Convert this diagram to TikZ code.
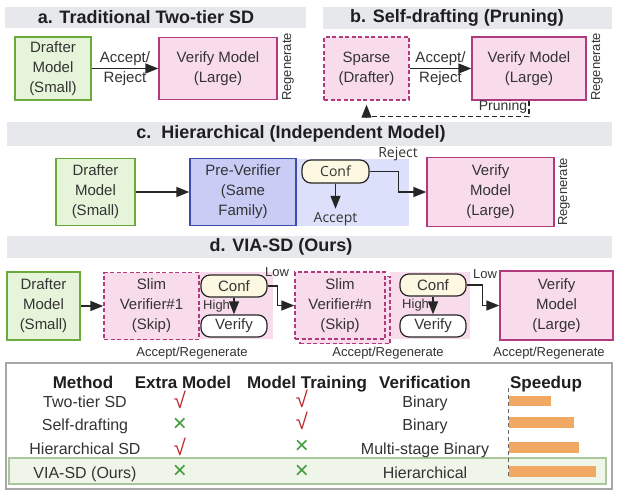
\documentclass[tikz,border=0pt]{standalone}
\usepackage{fontspec}
\setmainfont{Liberation Sans}
\newfontfamily\osans{Open Sans}
\usetikzlibrary{arrows.meta}
\definecolor{barg}{HTML}{E6E8EB}
\definecolor{gfill}{HTML}{E6F5DA}
\definecolor{gline}{HTML}{6AAB3C}
\definecolor{pfill}{HTML}{F9DCEC}
\definecolor{pline}{HTML}{B03A7C}
\definecolor{bfill}{HTML}{C9CDF6}
\definecolor{bline}{HTML}{3A4CB0}
\definecolor{lav}{HTML}{DDE0FA}
\definecolor{cfill}{HTML}{FDF8E1}
\definecolor{txt}{HTML}{333333}
\definecolor{orng}{HTML}{F0A862}
\definecolor{tabline}{HTML}{A6A6A6}
\definecolor{hlfill}{HTML}{EFF6E9}
\definecolor{hlline}{HTML}{A9C79A}
\definecolor{chk}{HTML}{C0282F}
\definecolor{crs}{HTML}{3F9A3A}
\begin{document}
\begin{tikzpicture}[x=1pt,y=-1pt,
  body/.style={font=\fontsize{15}{20}\selectfont, text=txt, align=center},
  mbox/.style={body, draw, line width=1.4pt, inner sep=0pt},
  grbox/.style={mbox, draw=gline, fill=gfill},
  pkbox/.style={mbox, draw=pline, fill=pfill},
  pkdash/.style={pkbox, dash pattern=on 4pt off 2.5pt},
  blbox/.style={mbox, draw=bline, fill=bfill},
  pill/.style={body, draw=black!85, fill=cfill, line width=1.2pt, rounded corners=9pt, inner sep=0pt, minimum width=66pt, minimum height=22pt},
  wpill/.style={pill, fill=white},
  title/.style={font=\fontsize{18}{20}\selectfont\bfseries, text=black!88},
  small/.style={font=\fontsize{13}{15}\selectfont, text=txt},
  osml/.style={font=\osans\fontsize{14}{16}\selectfont, text=txt},
  regen/.style={small, rotate=90},
  arr/.style={-{Triangle[length=13pt,width=10pt]}, line width=1.4pt, draw=black!85},
  hdr/.style={font=\fontsize{17}{20}\selectfont\bfseries, text=black!88, anchor=base},
  rowt/.style={font=\fontsize{16}{18}\selectfont, text=txt, anchor=base},
  chkm/.style={font=\fontsize{22}{22}\selectfont, text=chk},
  crsm/.style={font=\fontsize{24}{24}\selectfont, text=crs},
]
\useasboundingbox[fill=white] (0,0) rectangle (620,500);

% ---- panel a
\fill[barg] (5,7) rectangle (306,28);
\node[title] (ta) at (146,17.5) {a. Traditional Two-tier SD};
\node[grbox, minimum width=76pt, minimum height=63pt] (da) at (53,68.5) {Drafter\\Model\\(Small)};
\node[pkbox, minimum width=118pt, minimum height=62pt] (va) at (218,68.5) {Verify Model\\(Large)};
\draw[arr] (da) -- (va) node[midway, above=-1pt, body] (aa) {Accept/} node[midway, below=-1pt, body] (ra1) {Reject};
\node[regen] (rga) at (288,67) {Regenerate};

% ---- panel b
\fill[barg] (323,7) rectangle (612,29);
\node[title] (tb) at (457,18) {b. Self-drafting (Pruning)};
\node[pkdash, minimum width=85pt, minimum height=63pt] (sp) at (366.5,68.5) {Sparse\\(Drafter)};
\node[pkbox, minimum width=114pt, minimum height=63pt] (vb) at (529,68.5) {Verify Model\\(Large)};
\draw[arr] (sp) -- (vb) node[midway, above=-1pt, body] (ab) {Accept/} node[midway, below=-1pt, body] (rb1) {Reject};
\node[regen] (rgb) at (597,67) {Regenerate};
\draw[arr, line width=1.2pt, dash pattern=on 5pt off 3pt, shorten >=4pt] (vb.south) -- ++(0,16) -| (sp.south);
\node[body, font=\fontsize{14}{16}\selectfont] (pr) at (503,107) {Pruning};

% ---- panel c
\fill[barg] (7,122) rectangle (612,146);
\node[title] (tc) at (291,134) {c.\ \ Hierarchical (Independent Model)};
\node[grbox, minimum width=79pt, minimum height=67pt] (dc) at (95.5,192) {Drafter\\Model\\(Small)};
\node[blbox, minimum width=106pt, minimum height=67pt] (pv) at (243,192) {Pre-Verifier\\(Same\\Family)};
\fill[lav] (296.7,158.5) rectangle (409,225.5);
\node[pill, minimum width=67pt, minimum height=23pt, font=\osans\fontsize{14}{16}\selectfont] (cc) at (335.5,171.5) {Conf};
\node[osml] (acc) at (335.5,219) {Accept};
\node[osml] (rj) at (398,154) {Reject};
\node[pkbox, minimum width=127pt, minimum height=69pt] (vc) at (490.5,192) {Verify\\Model\\(Large)};
\draw[arr] (dc) -- (pv);
\draw[arr] (cc) -- (acc);
\draw[arr] (cc.east) -- ++(29,0) |- (vc.west);
\node[regen] (rgc) at (564,192) {Regenerate};

% ---- panel d
\fill[barg] (7,236) rectangle (612,258);
\node[title] (td) at (281,247) {d. VIA-SD (Ours)};
\node[grbox, minimum width=73pt, minimum height=68pt] (dd) at (43.5,306) {Drafter\\Model\\(Small)};
\fill[pfill] (199,272) rectangle (273,339);
\node[pkdash, minimum width=95pt, minimum height=67pt] (s1) at (151.5,306) {Slim\\Verifier\#1\\(Skip)};
\draw[arr] (dd) -- (s1);
\node[pill] (cf1) at (234,286) {Conf};
\node[wpill] (vf1) at (234,326) {Verify};
\draw[arr] (cf1) -- (vf1) node[midway, left=0pt, small] (h1) {High};
\fill[pfill] (390,272) rectangle (470,339);
\node[pkdash, minimum width=90pt, minimum height=67pt] (snb) at (345,310) {};
\node[pkdash, minimum width=90pt, minimum height=67pt] (sn) at (340,305.5) {Slim\\Verifier\#n\\(Skip)};
\draw[arr] (cf1.east) -- ++(10,0) |- (sn.west);
\node[small] (lo1) at (277,272) {Low};
\node[pill] (cf2) at (433,285) {Conf};
\node[wpill] (vf2) at (433,326) {Verify};
\draw[arr] (cf2) -- (vf2) node[midway, left=0pt, small] (h2) {High};
\node[pkbox, minimum width=113pt, minimum height=69pt] (vm) at (556.5,305.5) {Verify\\Model\\(Large)};
\draw[arr] (cf2.east) -- ++(16,0) |- (vm.west);
\node[small] (lo2) at (485,274) {Low};
\node[small] (ar1) at (192,353) {Accept/Regenerate};
\node[small] (ar2) at (388,353) {Accept/Regenerate};
\node[small] (ar3) at (549,353) {Accept/Regenerate};

% ---- table
\draw[tabline, line width=1.3pt] (6,363) rectangle (612,489);
\draw[hlline, fill=hlfill, line width=1.2pt] (9,458) rectangle (606,484);
\draw[black!60, line width=0.8pt, dash pattern=on 4pt off 3pt] (508,388) -- (508,478);
\fill[orng] (509,396) rectangle (551,406);
\fill[orng] (509,417) rectangle (574,428);
\fill[orng] (509,442) rectangle (579,453);
\fill[orng] (509,466) rectangle (596,477);
\node[hdr] (h_m) at (83,388) {Method};
\node[hdr] (h_e) at (183,388) {Extra Model};
\node[hdr] (h_t) at (307,388) {Model Training};
\node[hdr] (h_v) at (425,388) {Verification};
\node[hdr] (h_s) at (546,388) {Speedup};
\node[rowt] (m1) at (85,407) {Two-tier SD};
\node[rowt] (m2) at (85,430) {Self-drafting};
\node[rowt] (m3) at (85,454) {Hierarchical SD};
\node[rowt] (m4) at (85,478) {VIA-SD (Ours)};
\node[chkm] (e1) at (180,400) {√};
\node[crsm] (e2) at (180,425) {×};
\node[chkm] (e3) at (180,447) {√};
\node[crsm] (e4) at (180,472) {×};
\node[chkm] (t1) at (302,399) {√};
\node[chkm] (t2) at (302,421) {√};
\node[crsm] (t3) at (302,447) {×};
\node[crsm] (t4) at (302,472) {×};
\node[rowt] (v1) at (425,407) {Binary};
\node[rowt] (v2) at (425,430) {Binary};
\node[rowt] (v3) at (425,454) {Multi-stage Binary};
\node[rowt] (v4) at (425,478) {Hierarchical};
\end{tikzpicture}
\end{document}
